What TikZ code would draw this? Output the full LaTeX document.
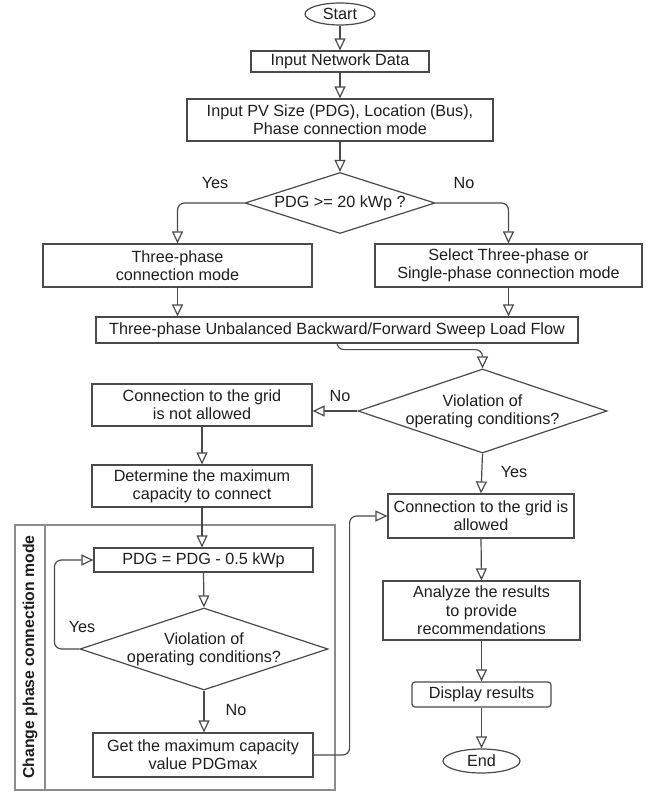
\documentclass[tikz,border=0pt]{standalone}
\usepackage{fontspec}
\setmainfont{Liberation Sans}
\usetikzlibrary{shapes.geometric,arrows.meta}
\definecolor{ln}{HTML}{4A4A4A}
\definecolor{tx}{HTML}{1E1E1E}
\definecolor{cont}{HTML}{8C8C8C}
\tikzset{
  base/.style={draw=ln, line width=1.2pt, text=tx, align=center, inner sep=0pt,
    font=\fontsize{16.2}{18.3}\selectfont},
  boxn/.style={base, rectangle},
  ovaln/.style={base, ellipse},
  dian/.style={base, diamond},
  lbl/.style={text=tx, inner sep=0pt, font=\fontsize{16.2}{18.3}\selectfont, align=center},
  arr/.style={draw=ln, line width=1.2pt, -{Triangle[open, length=12pt, width=11pt]}},
  rc/.style={rounded corners=7pt}
}
\begin{document}
\begin{tikzpicture}[x=1pt,y=-1pt]
\useasboundingbox (0,0) rectangle (657,792);
% container
\draw[cont, line width=1.1pt] (15,525) rectangle (335,790);
\draw[cont, line width=1.1pt] (45,525) -- (45,790);
\node[lbl, rotate=90, font=\fontsize{15.8}{18}\bfseries] (cpm) at (30,657) {Change phase connection mode};

\node[ovaln, minimum width=70pt, minimum height=22pt] (start) at (340,14) {Start};
\node[boxn, minimum width=178pt, minimum height=21pt] (ind) at (340,61.5) {Input Network Data};
\node[boxn, minimum width=306pt, minimum height=42pt] (pv) at (340,120) {Input PV Size (PDG), Location (Bus),\\Phase connection mode};
\node[dian, minimum width=190pt, minimum height=61pt] (d1) at (340,203) {};
\node[lbl] (d1t) at (d1.center) {PDG >= 20 kWp ?};
\node[boxn, minimum width=269pt, minimum height=43pt] (tp) at (177.5,265.5) {Three-phase\\connection mode};
\node[boxn, minimum width=267pt, minimum height=43pt] (sel) at (508.5,265.5) {Select Three-phase or\\Single-phase connection mode};
\node[boxn, minimum width=482pt, minimum height=26pt] (lf) at (337,330) {Three-phase Unbalanced Backward/Forward Sweep Load Flow};
\node[dian, minimum width=249pt, minimum height=84pt] (d2) at (482.5,411) {};
\node[lbl] (d2t) at (d2.center) {Violation of\\operating conditions?};
\node[boxn, minimum width=220pt, minimum height=42pt] (cna) at (202,405) {Connection to the grid\\is not allowed};
\node[boxn, minimum width=220pt, minimum height=42pt] (det) at (202,486) {Determine the maximum\\capacity to connect};
\node[boxn, minimum width=219pt, minimum height=24pt] (pdg) at (203.5,560) {PDG = PDG - 0.5 kWp};
\node[dian, minimum width=248pt, minimum height=82pt] (d3) at (204,649) {};
\node[lbl] (d3t) at (d3.center) {Violation of\\operating conditions?};
\node[boxn, minimum width=220pt, minimum height=44pt] (gm) at (203,755) {Get the maximum capacity\\value PDGmax};
\node[boxn, minimum width=186pt, minimum height=44pt] (ca) at (481,516) {Connection to the grid is\\allowed};
\node[boxn, minimum width=197pt, minimum height=59pt] (an) at (481.5,610.5) {Analyze the results\\to provide\\recommendations};
\node[boxn, rounded corners=3pt, minimum width=139pt, minimum height=25pt] (disp) at (481.5,694.5) {Display results};
\node[ovaln, minimum width=77pt, minimum height=24pt] (end) at (481.5,761) {End};

% labels
\node[lbl] (y1) at (215,183) {Yes};
\node[lbl] (n1) at (464,183) {No};
\node[lbl] (n2) at (340,396) {No};
\node[lbl] (y2) at (514,472) {Yes};
\node[lbl] (y3) at (82,627) {Yes};
\node[lbl] (n3) at (236,710) {No};

% connectors
\draw[arr] (start) -- (ind);
\draw[arr] (ind) -- (pv);
\draw[arr] (pv) -- (d1);
\draw[arr, rc] (d1.west) -| (tp.north);
\draw[arr, rc] (d1.east) -| (sel.north);
\draw[arr] (tp.south) -- (tp.south |- lf.north);
\draw[arr] (sel.south) -- (sel.south |- lf.north);
\draw[arr, rc] (lf.south) -- ++(0,6) -| (d2.north);
\draw[arr] (d2.west) -- (d2.west -| cna.east);
\draw[arr] (d2.south) -- (ca.north);
\draw[arr] (cna.south) -- (cna.south |- det.north);
\draw[arr] (det.south) -- (det.south |- pdg.north);
\draw[arr] (pdg.south) -- (d3.north);
\draw[arr, rc] (d3.west) -- ++(-25,0) |- (pdg.west);
\draw[arr] (d3.south) -- (d3.south |- gm.north);
\draw[arr, rc] (gm.east) -- ++(36,0) |- (ca.west);
\draw[arr] (ca.south) -- (an.north);
\draw[arr] (an.south) -- (disp.north);
\draw[arr] (disp.south) -- (end.north);
\end{tikzpicture}
\end{document}
